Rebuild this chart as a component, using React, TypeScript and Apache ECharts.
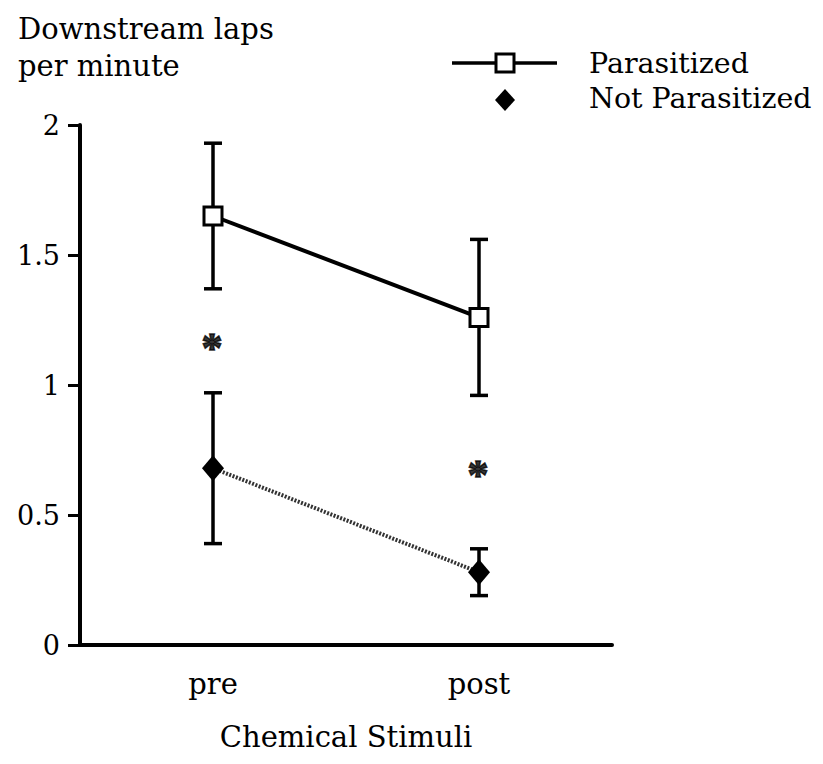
import React, { useEffect, useRef } from "react";
import * as echarts from "echarts";

// Stimulus phases on the x axis
const stimuli = ["pre", "post"];

// Mean downstream laps per minute with error-bar limits
const parasitizedMean = [1.65, 1.26];
const parasitizedUpper = [1.93, 1.56];
const parasitizedLower = [1.37, 0.96];

const notParasitizedMean = [0.68, 0.28];
const notParasitizedUpper = [0.97, 0.37];
const notParasitizedLower = [0.39, 0.19];

// Significance marks (asterisks) between the groups
const significanceY = [1.17, 0.68];

const yTicks = [0, 0.5, 1, 1.5, 2];

const FONT = "'DejaVu Serif', 'Liberation Serif', serif";
const STAR_FONT = "'Liberation Serif', serif";

function errorBarSeries(lower: number[], upper: number[], name: string) {
  return {
    type: "custom",
    name,
    z: 1,
    silent: true,
    data: stimuli.map((_, i) => [i, lower[i], upper[i]]),
    renderItem: (_params: any, api: any) => {
      const idx = api.value(0);
      const lo = api.coord([idx, api.value(1)]);
      const hi = api.coord([idx, api.value(2)]);
      const cap = 9;
      const style = { stroke: "#000", lineWidth: 3.5 };
      return {
        type: "group",
        children: [
          { type: "line", shape: { x1: hi[0], y1: hi[1], x2: lo[0], y2: lo[1] }, style },
          { type: "line", shape: { x1: hi[0] - cap, y1: hi[1], x2: hi[0] + cap, y2: hi[1] }, style },
          { type: "line", shape: { x1: lo[0] - cap, y1: lo[1], x2: lo[0] + cap, y2: lo[1] }, style },
        ],
      };
    },
  };
}

export default function App() {
  const ref = useRef<HTMLDivElement>(null);

  useEffect(() => {
    document.body.style.margin = "0";
    if (!ref.current) return;
    const chart = echarts.init(ref.current, undefined, { renderer: "svg" });

    chart.setOption({
      animation: false,
      backgroundColor: "#fff",
      textStyle: { fontFamily: FONT, color: "#000" },
      title: {
        text: "Downstream laps\nper minute",
        left: 18,
        top: 10,
        padding: 0,
        textStyle: {
          fontFamily: FONT,
          fontSize: 29,
          fontWeight: "normal",
          color: "#000",
          lineHeight: 37,
        },
      },
      grid: { left: 80, right: 211, top: 125, bottom: 119, containLabel: false },
      xAxis: {
        type: "category",
        data: stimuli,
        boundaryGap: true,
        name: "Chemical Stimuli",
        nameLocation: "middle",
        nameGap: 77,
        nameTextStyle: { fontFamily: FONT, fontSize: 29, color: "#000" },
        axisLine: { lineStyle: { color: "#000", width: 4 } },
        axisTick: { alignWithLabel: true, length: 10, lineStyle: { color: "#000", width: 3 } },
        axisLabel: { fontFamily: FONT, fontSize: 29, color: "#000", margin: 24 },
        splitLine: { show: false },
      },
      yAxis: {
        type: "value",
        min: 0,
        max: 2,
        interval: 0.5,
        axisLine: { show: true, lineStyle: { color: "#000", width: 4 } },
        axisTick: { show: true, length: 12, lineStyle: { color: "#000", width: 3 } },
        axisLabel: {
          fontFamily: FONT,
          fontSize: 27,
          color: "#000",
          margin: 20,
          formatter: (v: number) => (yTicks.includes(v) ? String(v) : ""),
        },
        splitLine: { show: false },
      },
      series: [
        errorBarSeries(parasitizedLower, parasitizedUpper, "Parasitized SE"),
        errorBarSeries(notParasitizedLower, notParasitizedUpper, "Not Parasitized SE"),
        {
          type: "line",
          name: "Parasitized",
          z: 3,
          data: parasitizedMean,
          symbol: "rect",
          symbolSize: 18,
          showAllSymbol: true,
          lineStyle: { color: "#000", width: 4 },
          itemStyle: { color: "#fff", borderColor: "#000", borderWidth: 3 },
        },
        {
          type: "line",
          name: "Not Parasitized",
          z: 3,
          data: notParasitizedMean,
          symbol: "diamond",
          symbolSize: [22, 26],
          lineStyle: { color: "#333", width: 4, type: [2, 1.5] },
          itemStyle: { color: "#000" },
        },
        {
          type: "scatter",
          name: "Significance",
          z: 4,
          silent: true,
          symbolSize: 1,
          itemStyle: { color: "transparent" },
          data: significanceY,
          label: {
            show: true,
            position: "inside",
            formatter: "*",
            fontFamily: STAR_FONT,
            fontSize: 42,
            fontWeight: "bold",
            color: "#000",
            textBorderColor: "#000",
            textBorderWidth: 1.5,
            offset: [-1, 7],
          },
        },
      ],
      graphic: [
        {
          type: "line",
          shape: { x1: 452, y1: 63, x2: 557, y2: 63 },
          style: { stroke: "#000", lineWidth: 3.5 },
        },
        {
          type: "rect",
          shape: { x: 496, y: 54, width: 18, height: 18 },
          style: { fill: "#fff", stroke: "#000", lineWidth: 3 },
        },
        {
          type: "polygon",
          shape: { points: [[505, 89], [515, 100], [505, 111], [495, 100]] },
          style: { fill: "#000" },
        },
        {
          type: "text",
          x: 589,
          y: 63,
          style: {
            text: "Parasitized",
            font: `28.5px ${FONT}`,
            fill: "#000",
            textVerticalAlign: "middle",
          },
        },
        {
          type: "text",
          x: 589,
          y: 98,
          style: {
            text: "Not Parasitized",
            font: `28.5px ${FONT}`,
            fill: "#000",
            textVerticalAlign: "middle",
          },
        },
      ],
    });

    return () => chart.dispose();
  }, []);

  return <div ref={ref} style={{ width: 823, height: 764 }} />;
}
